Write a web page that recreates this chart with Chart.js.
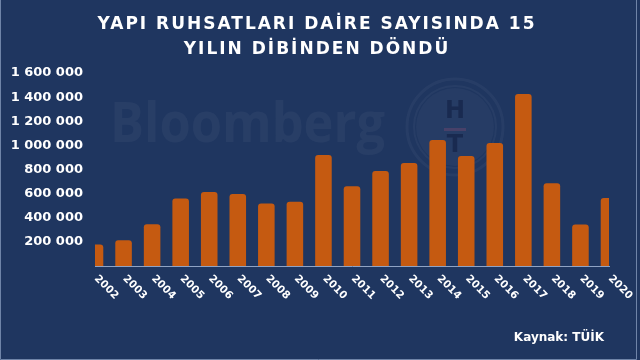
<!DOCTYPE html>
<html lang="tr">
<head>
<meta charset="utf-8">
<script src="https://cdn.jsdelivr.net/npm/chart.js@4.4.1/dist/chart.umd.min.js"></script>
<style>
  body { margin: 0; background: #1f3660; }
  canvas { display: block; }
</style>
</head>
<body>
<canvas id="ruhsatChart" width="640" height="360"></canvas>
<script>
// veriler
const years = ['2002', '2003', '2004', '2005', '2006', '2007', '2008', '2009', '2010', '2011',
  '2012', '2013', '2014', '2015', '2016', '2017', '2018', '2019', '2020'];
const daireSayisi = [178000, 214000, 347000, 560000, 613000, 596000, 519000, 532000, 920000, 662000,
  787000, 854000, 1045000, 912000, 1020000, 1425000, 685000, 344000, 563000];
const yMax = 1600000;
const yStep = 200000;
const titleLines = ['YAPI RUHSATLARI DAİRE SAYISINDA 15', 'YILIN DİBİNDEN DÖNDÜ'];
const sourceText = 'Kaynak: TÜİK';

const bg = '#1f3660';
const barColor = '#c55a11';

// 1 600 000 gibi boşluklu yazım
function formatNumber(v) {
  return String(v).replace(/\B(?=(\d{3})+(?!\d))/g, ' ');
}

// arka plan, filigran, başlık, yıllar ve kaynak yazısı
const decoPlugin = {
  id: 'deco',
  beforeDraw(chart) {
    const c = chart.ctx;
    c.save();
    c.fillStyle = bg;
    c.fillRect(0, 0, chart.width, chart.height);
    c.strokeStyle = '#6f84a8';
    c.lineWidth = 1;
    c.beginPath();
    c.moveTo(0.5, 0); c.lineTo(0.5, 359.5); c.lineTo(636.5, 359.5); c.lineTo(636.5, 0);
    c.stroke();
    c.restore();
  },
  beforeDatasetsDraw(chart) {
    const c = chart.ctx;
    c.save();
    // Bloomberg filigranı
    c.fillStyle = 'rgba(255,255,255,0.045)';
    c.font = 'bold 56px "Open Sans"';
    c.textBaseline = 'alphabetic';
    c.textAlign = 'left';
    const w = c.measureText('Bloomberg').width;
    c.save();
    c.translate(110, 142);
    c.scale(275 / w, 1);
    c.fillText('Bloomberg', 0, 0);
    c.restore();
    // HT logosu
    c.strokeStyle = 'rgba(255,255,255,0.04)';
    c.lineWidth = 3;
    c.beginPath(); c.arc(455, 127, 48, 0, Math.PI * 2); c.stroke();
    c.lineWidth = 2;
    c.beginPath(); c.arc(455, 127, 41, 0, Math.PI * 2); c.stroke();
    c.fillStyle = 'rgba(255,255,255,0.03)';
    c.beginPath(); c.arc(455, 127, 39, 0, Math.PI * 2); c.fill();
    c.fillStyle = 'rgba(22,38,75,0.8)';
    c.font = 'bold 24px "DejaVu Sans"';
    c.textAlign = 'center';
    c.textBaseline = 'middle';
    c.fillText('H', 455, 112);
    c.fillText('T', 455, 146);
    c.fillStyle = 'rgba(100,70,110,0.55)';
    c.fillRect(444, 128, 22, 3);
    c.restore();
  },
  afterDraw(chart) {
    const c = chart.ctx;
    const x = chart.scales.x;
    c.save();
    c.fillStyle = '#ffffff';
    // başlık
    c.font = 'bold 17px "DejaVu Sans"';
    c.letterSpacing = '2px';
    c.textAlign = 'center';
    c.textBaseline = 'middle';
    c.fillText(titleLines[0], 317, 25);
    c.fillText(titleLines[1], 317, 50);
    c.letterSpacing = '0px';
    // yıl etiketleri, 45 derece aşağı doğru
    c.font = 'bold 10.5px "DejaVu Sans"';
    c.textAlign = 'left';
    years.forEach((yr, i) => {
      const px = x.getPixelForValue(i);
      c.save();
      c.translate(px + 1, 277);
      c.rotate(Math.PI / 4);
      c.fillText(yr, 0, 0);
      c.restore();
    });
    // kaynak
    c.font = 'bold 12px "DejaVu Sans"';
    c.textAlign = 'right';
    c.fillText(sourceText, 604, 338);
    c.restore();
  }
};

new Chart(document.getElementById('ruhsatChart'), {
  type: 'bar',
  data: {
    labels: years,
    datasets: [{
      label: 'Daire sayısı',
      data: daireSayisi,
      backgroundColor: barColor,
      borderWidth: 0,
      borderRadius: 3,
      borderSkipped: 'start',
      categoryPercentage: 1,
      barPercentage: 0.58
    }]
  },
  options: {
    responsive: false,
    devicePixelRatio: 1,
    animation: false,
    layout: { padding: { top: 73, right: 31, bottom: 94, left: 0 } },
    plugins: {
      legend: { display: false },
      title: { display: false },
      tooltip: { enabled: false }
    },
    scales: {
      x: {
        offset: false,
        grid: { display: false, drawTicks: false },
        border: { display: true, color: '#8fa3c4', width: 1 },
        ticks: { display: false }
      },
      y: {
        min: 0,
        max: yMax,
        grid: { display: false, drawTicks: false },
        border: { display: false },
        afterFit(scale) { scale.width = 95; },
        ticks: {
          stepSize: yStep,
          padding: 12,
          color: '#ffffff',
          font: { family: '"DejaVu Sans"', weight: 'bold', size: 13 },
          callback: v => v === 0 ? '' : formatNumber(v)
        }
      }
    }
  },
  plugins: [decoPlugin]
});
</script>
</body>
</html>
